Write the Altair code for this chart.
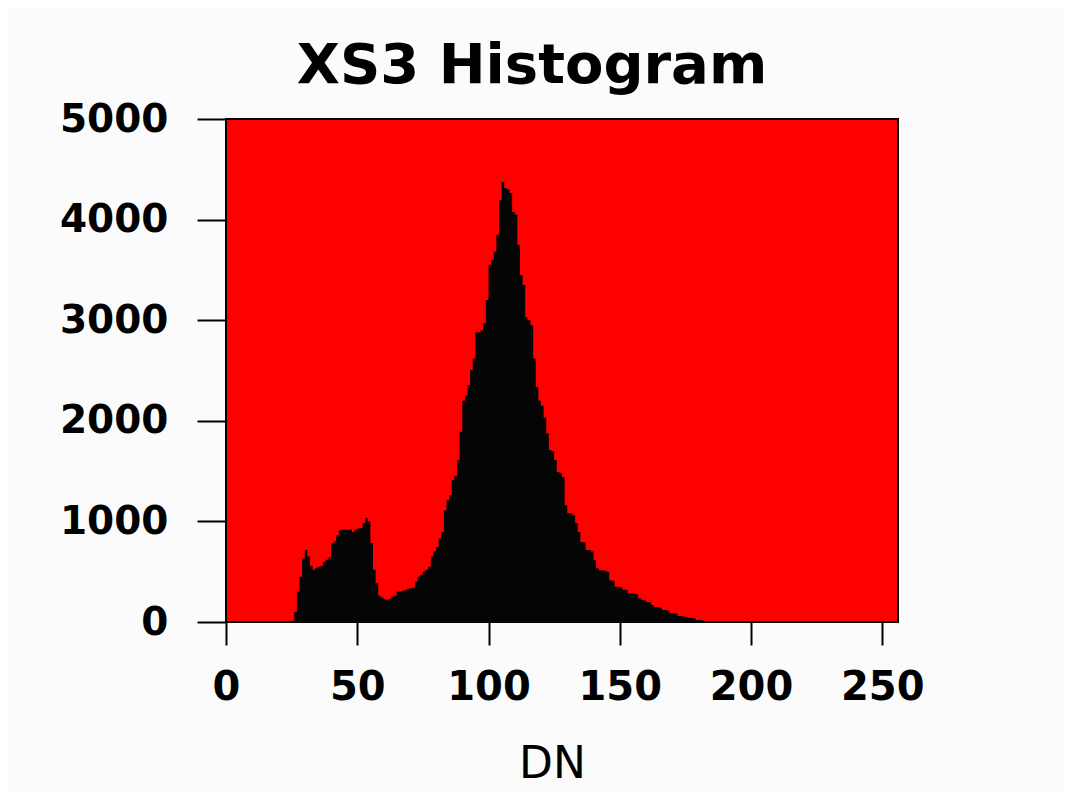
import altair as alt
import pandas as pd

# Histogram counts per DN value (DN 0..255)
dn_values = list(range(0, 256))
counts_25_to_183 = [
    0,    # 25
    100, 300, 450, 630, 715, 650, 560, 520, 540, 550,   # 26-35
    560, 600, 620, 640, 780, 800, 865, 910, 920, 920,   # 36-45
    915, 920, 895, 920, 930, 935, 985, 1035, 1000, 785, # 46-55
    520, 385, 260, 240, 225, 220, 230, 250, 260, 300,   # 56-65
    300, 310, 320, 330, 335, 340, 400, 450, 470, 500,   # 66-75
    520, 550, 650, 700, 745, 830, 895, 1110, 1210, 1260,  # 76-85
    1410, 1450, 1610, 1890, 2200, 2250, 2355, 2505, 2620, 2880,  # 86-95
    2880, 2900, 2970, 3200, 3550, 3600, 3680, 3850, 4195, 4375,  # 96-105
    4315, 4300, 4265, 4075, 4050, 3750, 3450, 3350, 3030, 3000,  # 106-115
    2950, 2620, 2335, 2200, 2150, 2030, 1875, 1710, 1700, 1610,  # 116-125
    1490, 1480, 1440, 1160, 1080, 1080, 1060, 985, 895, 795,     # 126-135
    790, 715, 715, 700, 615, 535, 515, 515, 510, 500,            # 136-145
    415, 410, 350, 350, 345, 320, 320, 285, 285, 280,            # 146-155
    275, 235, 220, 215, 200, 195, 170, 150, 150, 145,            # 156-165
    120, 120, 115, 90, 90, 85, 60, 60, 55, 50,                   # 166-175
    40, 40, 35, 20, 20, 15, 10, 0,                               # 176-183
]
counts = [0] * 25 + counts_25_to_183
counts = counts + [0] * (256 - len(counts))

x_ticks = [0, 50, 100, 150, 200, 250]
y_ticks = [0, 1000, 2000, 3000, 4000, 5000]
title_text = "XS3 Histogram"
x_title = "DN"

df = pd.DataFrame({"DN": dn_values + [256], "count": counts + [0]})

hist = (
    alt.Chart(df)
    .mark_area(interpolate="step-after", color="#050505", stroke=None)
    .encode(
        x=alt.X(
            "DN:Q",
            scale=alt.Scale(domain=[0, 256], nice=False, zero=False),
            axis=alt.Axis(
                values=x_ticks,
                format="d",
                title=x_title,
                grid=False,
                domain=False,
                tickColor="#000000",
                tickWidth=2,
                tickSize=23,
                labelFont="DejaVu Sans",
                labelFontWeight="bold",
                labelFontSize=40,
                labelColor="#000000",
                labelPadding=22,
                labelFlush=False,
                titleFont="DejaVu Sans",
                titleFontWeight="normal",
                titleFontSize=44,
                titleColor="#000000",
                titleX=326,
                titleY=155,
                titleAlign="center",
                titleBaseline="alphabetic",
            ),
        ),
        y=alt.Y(
            "count:Q",
            scale=alt.Scale(domain=[0, 5000], nice=False),
            axis=alt.Axis(
                values=y_ticks,
                format="d",
                title=None,
                grid=False,
                domain=False,
                tickColor="#000000",
                tickWidth=2,
                tickSize=29,
                labelFont="DejaVu Sans",
                labelFontWeight="bold",
                labelFontSize=39,
                labelColor="#000000",
                labelPadding=29,
                labelFlush=False,
            ),
        ),
    )
)

title_layer = (
    alt.Chart(pd.DataFrame({"t": [title_text]}))
    .mark_text(
        font="DejaVu Sans",
        fontWeight="bold",
        fontSize=56,
        color="#000000",
        align="center",
        baseline="alphabetic",
    )
    .encode(text="t:N", x=alt.value(306), y=alt.value(-36))
)

chart = (
    alt.layer(hist, title_layer)
    .properties(
        width=672,
        height=503,
        autosize=alt.AutoSizeParams(type="none"),
        padding={"left": 218, "top": 111, "right": 165, "bottom": 171},
        background="#fbfbfb",
    )
    .configure_view(fill="#ff0000", stroke="#000000", strokeWidth=2)
)

chart.save("out.html", embed_options={"renderer": "svg", "actions": False})
